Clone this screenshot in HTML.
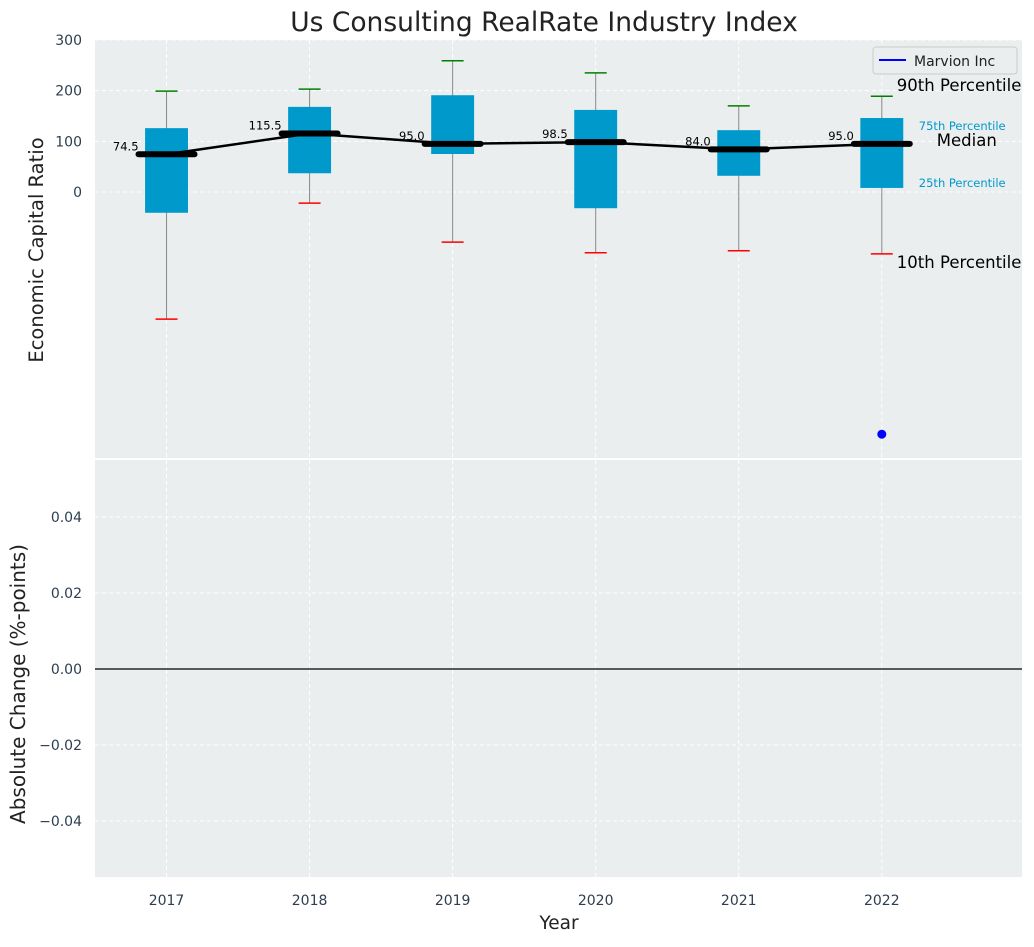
<!DOCTYPE html>
<html><head><meta charset="utf-8"><style>
body{margin:0;background:#fff;font-family:"Liberation Sans","DejaVu Sans",sans-serif;}
svg text{font-family:"DejaVu Sans","Liberation Sans",sans-serif;}
</style></head><body>
<svg id="chart" width="1034" height="942" xmlns="http://www.w3.org/2000/svg"></svg>
<script>
const years=[2017,2018,2019,2020,2021,2022];
const p10=[-251,-22,-99,-120,-116,-122];
const p25=[-41,37,75,-32,32,8];
const medians=[74.5,115.5,95.0,98.5,84.0,95.0];
const p75=[126,168,191,162,122,146];
const p90=[199,203,259,235,170,189];
const companyYear=[2022];
const companyValue=[-478];
const topTicks=[0,100,200,300];
const botTicks=[-0.04,-0.02,0,0.02,0.04];

const NS="http://www.w3.org/2000/svg";
const svg=document.getElementById('chart');
function el(tag,attrs,parent){const e=document.createElementNS(NS,tag);for(const k in attrs)e.setAttribute(k,attrs[k]);(parent||svg).appendChild(e);return e;}
const L=95,R=1022,T1=40,B1=458,T2=460,B2=877;
const xs=y=>L+(y-2016.5)/(2022.98-2016.5)*(R-L);
const y1=v=>192-v*0.5067;
const y2=v=>669-v*3800;

let r=el('rect',{x:L,y:T1,width:R-L,height:B1-T1,fill:'#eaeeee'});

r=el('rect',{x:L,y:T2,width:R-L,height:B2-T2,fill:'#eaeeee'});


years.forEach(y=>{
  let g=el('line',{x1:xs(y),x2:xs(y),y1:T1,y2:B1,stroke:'#fff','stroke-dasharray':'4,3','stroke-width':1});
  
  g=el('line',{x1:xs(y),x2:xs(y),y1:T2,y2:B2,stroke:'#fff','stroke-dasharray':'4,3','stroke-width':1});
  
  let t=el('text',{x:xs(y),y:905,'text-anchor':'middle','font-size':14,fill:'#2c3e50'});t.textContent=y;
  
});
topTicks.forEach(v=>{
  let g=el('line',{x1:L,x2:R,y1:y1(v),y2:y1(v),stroke:'#fff','stroke-dasharray':'4,3'});
  
  let t=el('text',{x:82,y:y1(v)+5,'text-anchor':'end','font-size':14,fill:'#2c3e50'});t.textContent=v;
  
});
botTicks.forEach(v=>{
  let g=el('line',{x1:L,x2:R,y1:y2(v),y2:y2(v),stroke:'#fff','stroke-dasharray':'4,3'});
  
  let t=el('text',{x:82,y:y2(v)+5,'text-anchor':'end','font-size':14,fill:'#2c3e50'});t.textContent=(v<0?'\u2212':'')+Math.abs(v).toFixed(2);
  
});
let zl=el('line',{x1:L,x2:R,y1:y2(0),y2:y2(0),stroke:'#000','stroke-width':1.2});


const hw=(xs(2018)-xs(2017))*0.15;
years.forEach((y,i)=>{
  const x=xs(y);
  let w=el('line',{x1:x,x2:x,y1:y1(p10[i]),y2:y1(p90[i]),stroke:'#888','stroke-width':1});
  
  let b=el('rect',{x:x-hw,y:y1(p75[i]),width:2*hw,height:y1(p25[i])-y1(p75[i]),fill:'#0099cc'});
  
  let c=el('line',{x1:x-11,x2:x+11,y1:y1(p90[i]),y2:y1(p90[i]),stroke:'green','stroke-width':1.5});
  
  c=el('line',{x1:x-11,x2:x+11,y1:y1(p10[i]),y2:y1(p10[i]),stroke:'red','stroke-width':1.5});
  
});
let pts=years.map((y,i)=>xs(y)+','+y1(medians[i])).join(' ');
let ml=el('polyline',{points:pts,fill:'none',stroke:'#000','stroke-width':2.5});

years.forEach((y,i)=>{
  const x=xs(y);
  let m=el('line',{x1:x-28,x2:x+28,y1:y1(medians[i]),y2:y1(medians[i]),stroke:'#000','stroke-width':6,'stroke-linecap':'round'});
  
  let t=el('text',{x:x-28,y:y1(medians[i])-4,'text-anchor':'end','font-size':11.5,fill:'#000'});t.textContent=medians[i].toFixed(1);
  
});
companyYear.forEach((y,i)=>{
  let c=el('circle',{cx:xs(y),cy:y1(companyValue[i]),r:4.5,fill:'blue'});
  
});
const ax=xs(2022);
[['90th Percentile',y1(p90[5])-10,16.5,'#000',ax+15,'start'],['75th Percentile',y1(p75[5])+7,11.5,'#0099cc',ax+37,'start'],['Median',y1(medians[5])-3,16.5,'#000',ax+115,'end'],['25th Percentile',y1(p25[5])-6,11.5,'#0099cc',ax+37,'start'],['10th Percentile',y1(p10[5])+9,16.5,'#000',ax+15,'start']].forEach(a=>{
  let t=el('text',{x:a[4],y:a[1]+5,'font-size':a[2],fill:a[3],'text-anchor':a[5]});t.textContent=a[0];
  
});
let lg=el('g',{});
el('rect',{x:873,y:47,width:144,height:27,rx:3,fill:'#eaeeee',stroke:'#ccc'},lg);
el('line',{x1:879,x2:906,y1:60,y2:60,stroke:'blue','stroke-width':2},lg);
let lt=el('text',{x:914,y:66,'font-size':14,fill:'#222'},lg);lt.textContent='Marvion Inc';
let t=el('text',{x:544,y:31,'text-anchor':'middle','font-size':26.5,fill:'#222'});t.textContent='Us Consulting RealRate Industry Index';

t=el('text',{x:559,y:929,'text-anchor':'middle','font-size':18.5,fill:'#222'});t.textContent='Year';

t=el('text',{x:0,y:0,'text-anchor':'middle','font-size':19.5,fill:'#222',transform:'translate(43,250) rotate(-90)'});t.textContent='Economic Capital Ratio';

t=el('text',{x:0,y:0,'text-anchor':'middle','font-size':20,fill:'#222',transform:'translate(25,684) rotate(-90)'});t.textContent='Absolute Change (%-points)';

</script>
</body></html>
